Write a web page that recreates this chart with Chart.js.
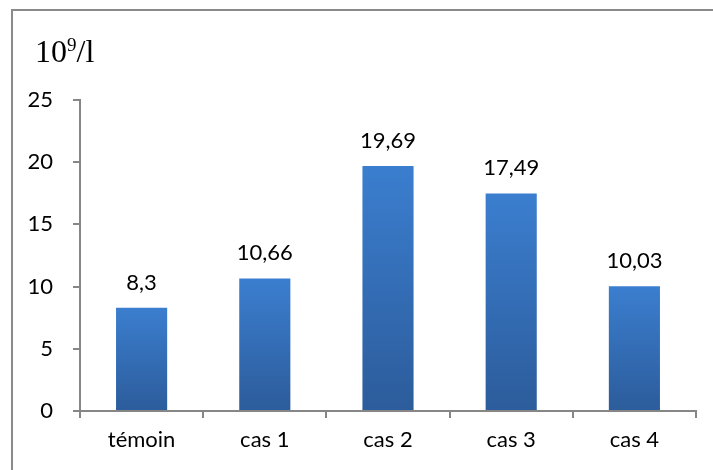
<!DOCTYPE html>
<html>
<head>
<meta charset="utf-8">
<script src="https://cdn.jsdelivr.net/npm/chart.js@4"></script>
<style>
  html, body { margin: 0; padding: 0; background: #fff; }
  #wrap { width: 713px; height: 470px; }
</style>
</head>
<body>
<div id="wrap"><canvas id="chart" width="713" height="470"></canvas></div>
<script>
const categories = ['témoin', 'cas 1', 'cas 2', 'cas 3', 'cas 4'];
const values = [8.3, 10.66, 19.69, 17.49, 10.03];
const valueLabels = ['8,3', '10,66', '19,69', '17,49', '10,03'];
const yTicks = [0, 5, 10, 15, 20, 25];

const fontFamily = 'Lato, "Noto Sans", sans-serif';
const labelFont = '22px ' + fontFamily;
const serif = '"Liberation Serif", "DejaVu Serif", serif';

// cadre gris + titre de l'axe (10^9/l)
const framePlugin = {
    id: 'frame',
    beforeDraw(chart) {
        const ctx = chart.ctx;
        ctx.save();
        ctx.fillStyle = '#fff';
        ctx.fillRect(0, 0, chart.width, chart.height);
        ctx.strokeStyle = '#8a8a8a';
        ctx.lineWidth = 2;
        ctx.beginPath();
        ctx.moveTo(12, chart.height);
        ctx.lineTo(12, 10);
        ctx.lineTo(chart.width, 10);
        ctx.stroke();

        ctx.fillStyle = '#000';
        ctx.textBaseline = 'alphabetic';
        ctx.font = '32px ' + serif;
        ctx.fillText('10', 35, 62);
        const w = ctx.measureText('10').width;
        ctx.font = '19px ' + serif;
        ctx.fillText('9', 35 + w, 51);
        const w2 = ctx.measureText('9').width;
        ctx.font = '32px ' + serif;
        ctx.fillText('/l', 35 + w + w2, 62);
        ctx.restore();
    }
};

// valeurs au-dessus des barres
const valuePlugin = {
    id: 'values',
    afterDatasetsDraw(chart) {
        const ctx = chart.ctx;
        const meta = chart.getDatasetMeta(0);
        ctx.save();
        ctx.font = labelFont;
        ctx.fillStyle = '#000';
        ctx.textAlign = 'center';
        ctx.textBaseline = 'alphabetic';
        meta.data.forEach((bar, i) => {
            ctx.fillText(valueLabels[i], bar.x, bar.y - 18);
        });
        ctx.restore();
    }
};

function barGradient(context) {
    const chart = context.chart;
    const yScale = chart.scales.y;
    if (!chart.chartArea || !yScale || context.dataIndex === undefined) {
        return '#3470bd';
    }
    const top = yScale.getPixelForValue(values[context.dataIndex]);
    const bottom = yScale.getPixelForValue(0);
    const g = chart.ctx.createLinearGradient(0, top, 0, bottom);
    g.addColorStop(0, '#3b7ecf');
    g.addColorStop(1, '#2c5c9b');
    return g;
}

const ctx = document.getElementById('chart').getContext('2d');

new Chart(ctx, {
    type: 'bar',
    data: {
        labels: categories,
        datasets: [{
            data: values,
            backgroundColor: barGradient,
            borderWidth: 0,
            barPercentage: 0.415,
            categoryPercentage: 1,
        }],
    },
    options: {
        responsive: false,
        animation: false,
        events: [],
        layout: {
            padding: { top: 100, right: 17, left: 0, bottom: 0 },
        },
        scales: {
            x: {
                grid: {
                    offset: true,
                    drawOnChartArea: false,
                    tickLength: 7,
                    color: '#868686',
                    lineWidth: 2,
                },
                border: { color: '#868686', width: 2 },
                ticks: {
                    color: '#000',
                    font: { family: fontFamily, size: 22 },
                    padding: 9,
                },
                afterFit(scale) { scale.height = 59; },
            },
            y: {
                min: 0,
                max: 25,
                afterBuildTicks(scale) {
                    scale.ticks = yTicks.map(v => ({ value: v }));
                },
                grid: {
                    drawOnChartArea: false,
                    tickLength: 7,
                    color: '#868686',
                    lineWidth: 2,
                },
                border: { color: '#868686', width: 2 },
                ticks: {
                    color: '#000',
                    font: { family: fontFamily, size: 22 },
                    padding: 20,
                },
                afterFit(scale) { scale.width = 80; },
            },
        },
        plugins: {
            legend: { display: false },
            tooltip: { enabled: false },
            title: { display: false },
        },
    },
    plugins: [framePlugin, valuePlugin],
});
</script>
</body>
</html>
